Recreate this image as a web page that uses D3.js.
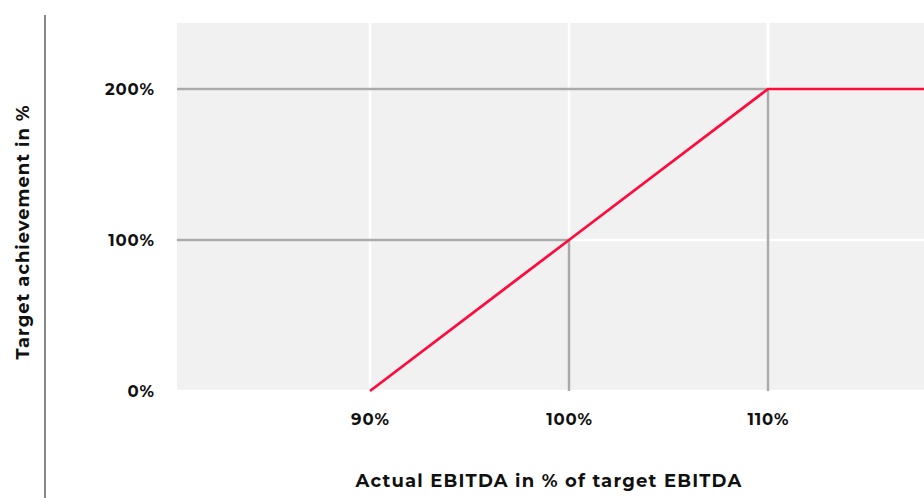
<!DOCTYPE html>
<html>
<head>
<meta charset="utf-8">
<script src="https://cdn.jsdelivr.net/npm/d3@7"></script>
<style>
  html, body { margin: 0; padding: 0; background: #ffffff; }
  svg { display: block; }
  text { font-family: "Montserrat", "Inter", "Open Sans", sans-serif; font-weight: 700; fill: #111; }
</style>
</head>
<body>
<svg id="chart" width="924" height="498"></svg>
<script>
// Payout curve: target achievement as a function of actual EBITDA vs target
const ebitdaPct = [90, 100, 110, 120];
const achievementPct = [0, 100, 200, 200];

// Axis ticks and titles
const xTicks = [90, 100, 110];
const yTicks = [0, 100, 200];
const xTitle = "Actual EBITDA in % of target EBITDA";
const yTitle = "Target achievement in %";

// Reference markers drawn in grey at the threshold points
const refX = [100, 110];
const refY = [100, 200];

(function draw() {
  const svg = d3.select("#chart");
  const W = 924, H = 498;

  const x = d3.scaleLinear().domain([90, 110]).range([370, 768]);
  const y = d3.scaleLinear().domain([0, 200]).range([391, 89]);

  const plotL = 177, plotR = W, plotT = 23, plotB = 391;

  // Plot background
  svg.append("rect")
    .attr("x", plotL).attr("y", plotT)
    .attr("width", plotR - plotL).attr("height", plotB - plotT)
    .attr("fill", "#f1f1f1");

  // White grid
  svg.append("g").selectAll("line").data(xTicks).join("line")
    .attr("x1", d => x(d)).attr("x2", d => x(d))
    .attr("y1", plotT).attr("y2", plotB)
    .attr("stroke", "#ffffff").attr("stroke-width", 2.5);
  svg.append("g").selectAll("line").data(yTicks).join("line")
    .attr("x1", plotL).attr("x2", plotR)
    .attr("y1", d => y(d)).attr("y2", d => y(d))
    .attr("stroke", "#ffffff").attr("stroke-width", 2.5);

  // Grey guide lines from the axes to the curve's break points
  const refs = svg.append("g").attr("stroke", "#aaaaaa").attr("stroke-width", 2.5);
  refX.forEach((xv, i) => {
    const yv = refY[i];
    refs.append("line")
      .attr("x1", plotL).attr("x2", x(xv))
      .attr("y1", y(yv)).attr("y2", y(yv));
    refs.append("line")
      .attr("x1", x(xv)).attr("x2", x(xv))
      .attr("y1", y(0)).attr("y2", y(yv));
  });

  // Curve
  const pts = ebitdaPct.map((d, i) => [d, achievementPct[i]]);
  svg.append("defs").append("clipPath").attr("id", "plotClip")
    .append("rect").attr("x", plotL).attr("y", plotT)
    .attr("width", plotR - plotL).attr("height", plotB - plotT + 2);
  svg.append("path")
    .datum(pts)
    .attr("clip-path", "url(#plotClip)")
    .attr("fill", "none")
    .attr("stroke", "#ff0a3c")
    .attr("stroke-width", 2.7)
    .attr("d", d3.line().x(d => x(d[0])).y(d => y(d[1])));

  // Tick labels
  svg.append("g").selectAll("text").data(yTicks).join("text")
    .attr("x", 154.8).attr("y", d => y(d))
    .attr("dy", "0.36em")
    .attr("text-anchor", "end")
    .attr("font-size", 16.5)
    .attr("letter-spacing", 0.8)
    .text(d => d + "%");
  svg.append("g").selectAll("text").data(xTicks).join("text")
    .attr("x", d => x(d) + 0.4).attr("y", 425)
    .attr("text-anchor", "middle")
    .attr("font-size", 16.5)
    .attr("letter-spacing", 0.8)
    .text(d => d + "%");

  // Axis titles
  svg.append("text")
    .attr("x", 549).attr("y", 487)
    .attr("text-anchor", "middle")
    .attr("font-size", 18)
    .attr("letter-spacing", 1.2)
    .text(xTitle);
  svg.append("text")
    .attr("transform", "translate(29,232) rotate(-90)")
    .attr("text-anchor", "middle")
    .attr("font-size", 18)
    .attr("letter-spacing", 0.95)
    .text(yTitle);

  // Left rule
  svg.append("line")
    .attr("x1", 45).attr("x2", 45)
    .attr("y1", 15).attr("y2", H)
    .attr("stroke", "#888888").attr("stroke-width", 2);
})();
</script>
</body>
</html>
